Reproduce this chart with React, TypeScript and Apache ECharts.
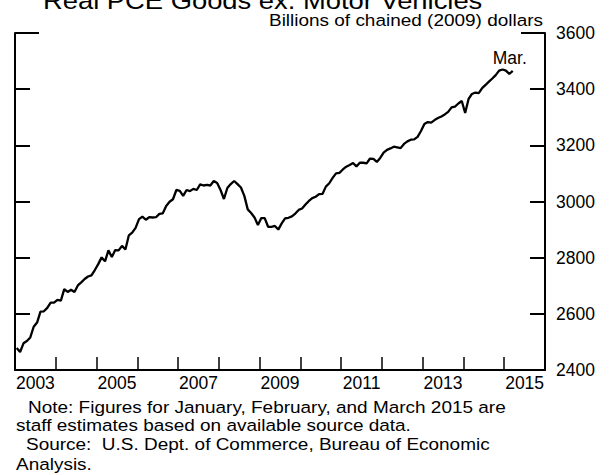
import React, { useEffect, useRef } from "react";
import * as echarts from "echarts";

// Categories (x-axis year bands) and monthly values, billions of chained (2009) dollars
const YEARS = ["2003", "2004", "2005", "2006", "2007", "2008", "2009", "2010", "2011", "2012", "2013", "2014", "2015"];
const Y2003 = [2478, 2464, 2495, 2503, 2516, 2554, 2569, 2608, 2609, 2621, 2640, 2640];
const Y2004 = [2650, 2647, 2688, 2678, 2686, 2678, 2701, 2712, 2724, 2733, 2737, 2756];
const Y2005 = [2777, 2801, 2787, 2826, 2802, 2827, 2826, 2842, 2829, 2879, 2889, 2906];
const Y2006 = [2937, 2946, 2935, 2944, 2943, 2944, 2956, 2958, 2984, 2999, 3008, 3041];
const Y2007 = [3038, 3020, 3041, 3037, 3045, 3041, 3061, 3057, 3059, 3057, 3073, 3066];
const Y2008 = [3041, 3009, 3048, 3062, 3073, 3062, 3050, 3020, 2972, 2959, 2943, 2916];
const Y2009 = [2941, 2941, 2910, 2910, 2913, 2900, 2922, 2940, 2942, 2947, 2957, 2970];
const Y2010 = [2975, 2989, 3002, 3012, 3017, 3026, 3027, 3053, 3065, 3084, 3100, 3102];
const Y2011 = [3114, 3124, 3130, 3137, 3125, 3138, 3138, 3136, 3153, 3152, 3141, 3155];
const Y2012 = [3174, 3184, 3189, 3195, 3193, 3190, 3205, 3214, 3220, 3221, 3230, 3251];
const Y2013 = [3276, 3283, 3281, 3290, 3297, 3303, 3310, 3319, 3335, 3338, 3349, 3358];
const Y2014 = [3315, 3365, 3383, 3388, 3386, 3404, 3415, 3427, 3438, 3450, 3466, 3470];
const Y2015 = [3466, 3454, 3465];

const Y_MIN = 2400;
const Y_MAX = 3600;
const Y_STEP = 200;
const MONTHS_SPAN = 156;

const TITLE = "Real PCE Goods ex. Motor Vehicles";
const SUBTITLE = "Billions of chained (2009) dollars";
const LAST_LABEL = "Mar.";
const NOTES = [
  "Note: Figures for January, February, and March 2015 are",
  "staff estimates based on available source data.",
  "Source:  U.S. Dept. of Commerce, Bureau of Economic",
  "Analysis.",
];

const FONT = "'Liberation Sans', Arial, Helvetica, sans-serif";

export default function App() {
  const ref = useRef<HTMLDivElement>(null);

  useEffect(() => {
    document.body.style.margin = "0";
    if (!ref.current) return;
    const chart = echarts.init(ref.current, null, { renderer: "svg" });

    const values = [
      ...Y2003, ...Y2004, ...Y2005, ...Y2006, ...Y2007, ...Y2008, ...Y2009,
      ...Y2010, ...Y2011, ...Y2012, ...Y2013, ...Y2014, ...Y2015,
    ];
    const data = values.map((v, i) => [i + 0.5, v]);
    const last = data[data.length - 1];

    const SX = 1.15;
    const txt = (text: string, x: number, y: number, size: number, align: string) => ({
      type: "text",
      x,
      y,
      scaleX: SX,
      silent: true,
      style: {
        text,
        fontSize: size,
        fontFamily: FONT,
        fill: "#000",
        align,
        verticalAlign: "middle",
      },
    });

    const yMain = (position: string, showLabel: boolean) => ({
      type: "value",
      position,
      min: Y_MIN,
      max: Y_MAX,
      interval: Y_STEP,
      axisLine: { show: true, lineStyle: { color: "#000", width: 2 } },
      axisTick: { show: true, inside: true, length: 15, lineStyle: { color: "#000", width: 2 } },
      axisLabel: {
        show: showLabel,
        margin: 11,
        color: "#000",
        fontSize: 17.5,
        fontFamily: FONT,
        formatter: (v: number) => String(v),
      },
      splitLine: { show: false },
    });

    const yLong = (position: string) => ({
      type: "value",
      position,
      min: Y_MIN,
      max: Y_MAX,
      interval: Y_MAX - Y_MIN,
      axisLine: { show: false },
      axisTick: { show: true, inside: true, length: 24, lineStyle: { color: "#000", width: 2 } },
      axisLabel: { show: false },
      splitLine: { show: false },
    });

    chart.setOption({
      animation: false,
      backgroundColor: "#fff",
      grid: { left: 15, right: 65, top: 33, bottom: 105, containLabel: false },
      xAxis: [
        {
          type: "category",
          data: YEARS,
          boundaryGap: true,
          position: "bottom",
          axisLine: { show: true, lineStyle: { color: "#000", width: 2 } },
          axisTick: {
            show: true,
            inside: true,
            length: 13,
            interval: 0,
            alignWithLabel: false,
            lineStyle: { color: "#000", width: 1.5 },
          },
          axisLabel: {
            show: true,
            interval: 1,
            margin: 4,
            color: "#000",
            fontSize: 17.5,
            fontFamily: FONT,
          },
          splitLine: { show: false },
        },
        { type: "value", min: 0, max: MONTHS_SPAN, show: false, position: "bottom" },
      ],
      yAxis: [yMain("left", false), yMain("right", true), yLong("left"), yLong("right")],
      series: [
        {
          type: "line",
          xAxisIndex: 1,
          yAxisIndex: 0,
          data,
          symbol: "none",
          showSymbol: false,
          smooth: false,
          lineStyle: { color: "#000", width: 2.3 },
          markPoint: {
            symbol: "circle",
            symbolSize: 0,
            itemStyle: { color: "transparent" },
            label: {
              show: true,
              formatter: LAST_LABEL,
              position: "top",
              distance: 4,
              offset: [-3, 0],
              color: "#000",
              fontSize: 17.5,
              fontFamily: FONT,
            },
            data: [{ coord: last }],
          },
        },
      ],
      graphic: [
        txt(TITLE, 43, 0.4, 23.8, "left"),
        txt(SUBTITLE, 543, 20.7, 16.5, "right"),
        txt(NOTES[0], 28, 407.3, 16.5, "left"),
        txt(NOTES[1], 16, 425, 16.5, "left"),
        txt(NOTES[2], 26, 444.5, 16.5, "left"),
        txt(NOTES[3], 16, 464, 16.5, "left"),
      ],
    });

    return () => chart.dispose();
  }, []);

  return (
    <div
      ref={ref}
      style={{ position: "absolute", left: 0, top: 0, width: 610, height: 475, background: "#fff" }}
    />
  );
}
